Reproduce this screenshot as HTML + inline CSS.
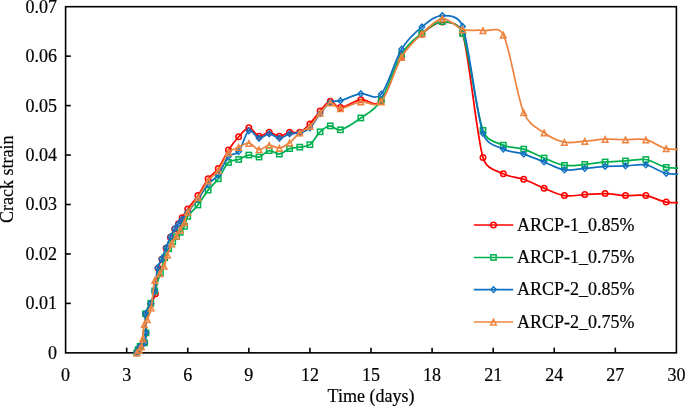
<!DOCTYPE html><html><head><meta charset="utf-8"><style>html,body{margin:0;padding:0;background:#fff;}svg{display:block;will-change:transform}text{font-family:"Liberation Serif",serif;font-size:18px;fill:#000;stroke:#000;stroke-width:0.2px}</style></head><body>
<svg width="685" height="406" viewBox="0 0 685 406">
<g>
<rect x="65.60" y="6.70" width="610.80" height="346.15" fill="none" stroke="#000" stroke-width="1.6"/>
<text x="57" y="358.75" text-anchor="end">0</text>
<line x1="65.60" y1="303.40" x2="70.80" y2="303.40" stroke="#000" stroke-width="1.6"/>
<text x="57" y="309.30" text-anchor="end">0.01</text>
<line x1="65.60" y1="253.95" x2="70.80" y2="253.95" stroke="#000" stroke-width="1.6"/>
<text x="57" y="259.85" text-anchor="end">0.02</text>
<line x1="65.60" y1="204.50" x2="70.80" y2="204.50" stroke="#000" stroke-width="1.6"/>
<text x="57" y="210.40" text-anchor="end">0.03</text>
<line x1="65.60" y1="155.05" x2="70.80" y2="155.05" stroke="#000" stroke-width="1.6"/>
<text x="57" y="160.95" text-anchor="end">0.04</text>
<line x1="65.60" y1="105.60" x2="70.80" y2="105.60" stroke="#000" stroke-width="1.6"/>
<text x="57" y="111.50" text-anchor="end">0.05</text>
<line x1="65.60" y1="56.15" x2="70.80" y2="56.15" stroke="#000" stroke-width="1.6"/>
<text x="57" y="62.05" text-anchor="end">0.06</text>
<text x="57" y="12.60" text-anchor="end">0.07</text>
<text x="65.60" y="380.7" text-anchor="middle">0</text>
<line x1="126.68" y1="352.85" x2="126.68" y2="347.65" stroke="#000" stroke-width="1.6"/>
<text x="126.68" y="380.7" text-anchor="middle">3</text>
<line x1="187.76" y1="352.85" x2="187.76" y2="347.65" stroke="#000" stroke-width="1.6"/>
<text x="187.76" y="380.7" text-anchor="middle">6</text>
<line x1="248.84" y1="352.85" x2="248.84" y2="347.65" stroke="#000" stroke-width="1.6"/>
<text x="248.84" y="380.7" text-anchor="middle">9</text>
<line x1="309.92" y1="352.85" x2="309.92" y2="347.65" stroke="#000" stroke-width="1.6"/>
<text x="309.92" y="380.7" text-anchor="middle">12</text>
<line x1="371.00" y1="352.85" x2="371.00" y2="347.65" stroke="#000" stroke-width="1.6"/>
<text x="371.00" y="380.7" text-anchor="middle">15</text>
<line x1="432.08" y1="352.85" x2="432.08" y2="347.65" stroke="#000" stroke-width="1.6"/>
<text x="432.08" y="380.7" text-anchor="middle">18</text>
<line x1="493.16" y1="352.85" x2="493.16" y2="347.65" stroke="#000" stroke-width="1.6"/>
<text x="493.16" y="380.7" text-anchor="middle">21</text>
<line x1="554.24" y1="352.85" x2="554.24" y2="347.65" stroke="#000" stroke-width="1.6"/>
<text x="554.24" y="380.7" text-anchor="middle">24</text>
<line x1="615.32" y1="352.85" x2="615.32" y2="347.65" stroke="#000" stroke-width="1.6"/>
<text x="615.32" y="380.7" text-anchor="middle">27</text>
<text x="676.40" y="380.7" text-anchor="middle">30</text>
<text x="371.00" y="402.1" text-anchor="middle">Time (days)</text>
<text transform="translate(12.7,179.28) rotate(-90)" text-anchor="middle">Crack strain</text>
<clipPath id="c"><rect x="59.60" y="0" width="618.50" height="358.85"/></clipPath>
<g clip-path="url(#c)">
<path d="M136.81,352.85 C137.08,352.27 137.81,350.46 138.41,349.34 C139.01,348.23 139.39,347.26 140.41,346.14 C141.43,345.02 143.59,344.84 144.51,342.63 C145.43,340.43 145.66,337.64 145.91,332.92 C146.16,328.19 145.20,319.15 146.01,314.29 C146.83,309.43 149.25,307.19 150.81,303.77 C152.38,300.35 154.30,299.15 155.41,293.75 C156.63,287.83 157.03,273.97 158.11,268.21 C159.02,263.41 160.58,262.54 161.91,259.20 C163.25,255.86 164.70,251.85 166.11,248.18 C167.53,244.51 168.98,240.37 170.42,237.16 C171.85,233.96 173.38,231.20 174.72,228.95 C176.05,226.70 177.18,225.53 178.42,223.64 C179.65,221.75 180.56,220.08 182.12,217.63 C183.67,215.18 185.12,212.62 187.76,208.95 C190.40,205.28 194.55,200.63 197.94,195.60 C201.33,190.57 204.73,183.32 208.12,178.79 C211.51,174.25 214.91,173.18 218.30,168.40 C221.69,163.62 225.09,155.38 228.48,150.11 C231.87,144.83 235.27,140.46 238.66,136.75 C242.05,133.04 245.45,127.93 248.84,127.85 C252.23,127.77 255.63,135.52 259.02,136.26 C262.41,137.00 265.81,132.30 269.20,132.30 C272.59,132.30 275.99,136.26 279.38,136.26 C282.77,136.26 286.17,132.96 289.56,132.30 C292.95,131.64 296.35,133.70 299.74,132.30 C303.13,130.90 306.53,127.44 309.92,123.90 C313.31,120.35 316.71,114.83 320.10,111.04 C323.49,107.25 326.89,101.73 330.28,101.15 C333.67,100.57 335.37,107.83 340.46,107.58 C345.55,107.33 354.03,100.74 360.82,99.67 C367.61,98.59 374.39,108.40 381.18,101.15 C387.97,93.90 394.75,67.36 401.54,56.15 C408.33,44.94 415.11,39.58 421.90,33.90 C428.69,28.21 435.47,22.11 442.26,22.03 C449.05,21.95 459.26,22.24 462.62,33.40 C469.41,55.99 476.19,134.12 482.98,157.52 C486.61,170.05 496.55,170.21 503.34,173.84 C510.13,177.47 516.91,176.89 523.70,179.28 C530.49,181.67 537.27,185.46 544.06,188.18 C550.85,190.90 557.63,194.53 564.42,195.60 C571.21,196.67 577.99,194.94 584.78,194.61 C591.57,194.28 598.35,193.46 605.14,193.62 C611.93,193.79 618.71,195.27 625.50,195.60 C632.29,195.93 639.07,194.53 645.86,195.60 C652.65,196.67 659.43,200.87 666.22,202.03 C673.01,203.18 683.19,202.44 686.58,202.52" fill="none" stroke="#FF0000" stroke-width="1.75"/>
<circle cx="136.81" cy="352.85" r="2.75" fill="none" stroke="#FF0000" stroke-width="1.5"/>
<circle cx="138.41" cy="349.34" r="2.75" fill="none" stroke="#FF0000" stroke-width="1.5"/>
<circle cx="140.41" cy="346.14" r="2.75" fill="none" stroke="#FF0000" stroke-width="1.5"/>
<circle cx="144.51" cy="342.63" r="2.75" fill="none" stroke="#FF0000" stroke-width="1.5"/>
<circle cx="145.91" cy="332.92" r="2.75" fill="none" stroke="#FF0000" stroke-width="1.5"/>
<circle cx="146.01" cy="314.29" r="2.75" fill="none" stroke="#FF0000" stroke-width="1.5"/>
<circle cx="150.81" cy="303.77" r="2.75" fill="none" stroke="#FF0000" stroke-width="1.5"/>
<circle cx="155.41" cy="293.75" r="2.75" fill="none" stroke="#FF0000" stroke-width="1.5"/>
<circle cx="158.11" cy="268.21" r="2.75" fill="none" stroke="#FF0000" stroke-width="1.5"/>
<circle cx="161.91" cy="259.20" r="2.75" fill="none" stroke="#FF0000" stroke-width="1.5"/>
<circle cx="166.11" cy="248.18" r="2.75" fill="none" stroke="#FF0000" stroke-width="1.5"/>
<circle cx="170.42" cy="237.16" r="2.75" fill="none" stroke="#FF0000" stroke-width="1.5"/>
<circle cx="174.72" cy="228.95" r="2.75" fill="none" stroke="#FF0000" stroke-width="1.5"/>
<circle cx="178.42" cy="223.64" r="2.75" fill="none" stroke="#FF0000" stroke-width="1.5"/>
<circle cx="182.12" cy="217.63" r="2.75" fill="none" stroke="#FF0000" stroke-width="1.5"/>
<circle cx="187.76" cy="208.95" r="2.75" fill="none" stroke="#FF0000" stroke-width="1.5"/>
<circle cx="197.94" cy="195.60" r="2.75" fill="none" stroke="#FF0000" stroke-width="1.5"/>
<circle cx="208.12" cy="178.79" r="2.75" fill="none" stroke="#FF0000" stroke-width="1.5"/>
<circle cx="218.30" cy="168.40" r="2.75" fill="none" stroke="#FF0000" stroke-width="1.5"/>
<circle cx="228.48" cy="150.11" r="2.75" fill="none" stroke="#FF0000" stroke-width="1.5"/>
<circle cx="238.66" cy="136.75" r="2.75" fill="none" stroke="#FF0000" stroke-width="1.5"/>
<circle cx="248.84" cy="127.85" r="2.75" fill="none" stroke="#FF0000" stroke-width="1.5"/>
<circle cx="259.02" cy="136.26" r="2.75" fill="none" stroke="#FF0000" stroke-width="1.5"/>
<circle cx="269.20" cy="132.30" r="2.75" fill="none" stroke="#FF0000" stroke-width="1.5"/>
<circle cx="279.38" cy="136.26" r="2.75" fill="none" stroke="#FF0000" stroke-width="1.5"/>
<circle cx="289.56" cy="132.30" r="2.75" fill="none" stroke="#FF0000" stroke-width="1.5"/>
<circle cx="299.74" cy="132.30" r="2.75" fill="none" stroke="#FF0000" stroke-width="1.5"/>
<circle cx="309.92" cy="123.90" r="2.75" fill="none" stroke="#FF0000" stroke-width="1.5"/>
<circle cx="320.10" cy="111.04" r="2.75" fill="none" stroke="#FF0000" stroke-width="1.5"/>
<circle cx="330.28" cy="101.15" r="2.75" fill="none" stroke="#FF0000" stroke-width="1.5"/>
<circle cx="340.46" cy="107.58" r="2.75" fill="none" stroke="#FF0000" stroke-width="1.5"/>
<circle cx="360.82" cy="99.67" r="2.75" fill="none" stroke="#FF0000" stroke-width="1.5"/>
<circle cx="381.18" cy="101.15" r="2.75" fill="none" stroke="#FF0000" stroke-width="1.5"/>
<circle cx="401.54" cy="56.15" r="2.75" fill="none" stroke="#FF0000" stroke-width="1.5"/>
<circle cx="421.90" cy="33.90" r="2.75" fill="none" stroke="#FF0000" stroke-width="1.5"/>
<circle cx="442.26" cy="22.03" r="2.75" fill="none" stroke="#FF0000" stroke-width="1.5"/>
<circle cx="462.62" cy="33.40" r="2.75" fill="none" stroke="#FF0000" stroke-width="1.5"/>
<circle cx="482.98" cy="157.52" r="2.75" fill="none" stroke="#FF0000" stroke-width="1.5"/>
<circle cx="503.34" cy="173.84" r="2.75" fill="none" stroke="#FF0000" stroke-width="1.5"/>
<circle cx="523.70" cy="179.28" r="2.75" fill="none" stroke="#FF0000" stroke-width="1.5"/>
<circle cx="544.06" cy="188.18" r="2.75" fill="none" stroke="#FF0000" stroke-width="1.5"/>
<circle cx="564.42" cy="195.60" r="2.75" fill="none" stroke="#FF0000" stroke-width="1.5"/>
<circle cx="584.78" cy="194.61" r="2.75" fill="none" stroke="#FF0000" stroke-width="1.5"/>
<circle cx="605.14" cy="193.62" r="2.75" fill="none" stroke="#FF0000" stroke-width="1.5"/>
<circle cx="625.50" cy="195.60" r="2.75" fill="none" stroke="#FF0000" stroke-width="1.5"/>
<circle cx="645.86" cy="195.60" r="2.75" fill="none" stroke="#FF0000" stroke-width="1.5"/>
<circle cx="666.22" cy="202.03" r="2.75" fill="none" stroke="#FF0000" stroke-width="1.5"/>
<circle cx="686.58" cy="202.52" r="2.75" fill="none" stroke="#FF0000" stroke-width="1.5"/>
<path d="M136.81,352.85 C137.01,352.33 137.48,350.83 138.01,349.74 C138.54,348.66 138.93,347.49 140.01,346.34 C141.09,345.19 143.53,345.09 144.51,342.83 C145.50,340.58 145.75,337.68 145.91,332.82 C146.08,327.96 144.69,318.61 145.51,313.69 C146.33,308.76 149.28,307.06 150.81,303.27 C152.35,299.48 153.11,296.04 154.71,290.95 C156.31,285.86 158.75,278.26 160.41,272.72 C162.08,267.18 163.33,261.70 164.71,257.70 C166.10,253.69 167.38,251.35 168.72,248.68 C170.05,246.01 171.42,243.67 172.72,241.67 C174.02,239.67 175.27,238.21 176.52,236.66 C177.77,235.11 178.88,234.09 180.22,232.36 C181.55,230.62 183.26,228.91 184.52,226.25 C185.77,223.58 185.52,219.91 187.76,216.37 C190.00,212.83 194.55,209.36 197.94,204.99 C201.33,200.63 204.73,194.53 208.12,190.16 C211.51,185.79 214.91,183.40 218.30,178.79 C221.69,174.17 225.09,165.68 228.48,162.47 C231.87,159.25 235.27,160.74 238.66,159.50 C242.05,158.26 245.45,155.46 248.84,155.05 C252.23,154.64 255.63,157.77 259.02,157.03 C262.41,156.29 265.81,151.09 269.20,150.60 C272.59,150.11 275.99,154.39 279.38,154.06 C282.77,153.73 286.17,149.78 289.56,148.62 C292.95,147.47 296.35,147.80 299.74,147.14 C303.13,146.48 306.53,147.22 309.92,144.67 C313.31,142.11 316.71,134.94 320.10,131.81 C323.49,128.68 326.89,126.20 330.28,125.87 C333.67,125.54 335.37,131.15 340.46,129.83 C345.55,128.51 354.03,122.91 360.82,117.96 C367.61,113.02 374.39,110.79 381.18,100.16 C387.97,89.53 394.75,65.30 401.54,54.17 C408.33,43.05 415.11,38.84 421.90,33.40 C428.69,27.96 435.47,21.53 442.26,21.53 C449.05,21.53 458.49,22.37 462.62,33.40 C469.41,51.53 476.19,111.70 482.98,130.33 C487.29,142.16 496.55,142.03 503.34,145.16 C510.13,148.29 516.91,146.97 523.70,149.12 C530.49,151.26 537.27,155.30 544.06,158.02 C550.85,160.74 557.63,164.36 564.42,165.43 C571.21,166.51 577.99,165.02 584.78,164.45 C591.57,163.87 598.35,162.55 605.14,161.97 C611.93,161.40 618.71,161.40 625.50,160.98 C632.29,160.57 639.07,158.43 645.86,159.50 C652.65,160.57 659.43,166.01 666.22,167.41 C673.01,168.81 683.19,167.82 686.58,167.91" fill="none" stroke="#00B050" stroke-width="1.75"/>
<rect x="134.16" y="350.20" width="5.30" height="5.30" fill="none" stroke="#00B050" stroke-width="1.5"/>
<rect x="135.36" y="347.09" width="5.30" height="5.30" fill="none" stroke="#00B050" stroke-width="1.5"/>
<rect x="137.36" y="343.69" width="5.30" height="5.30" fill="none" stroke="#00B050" stroke-width="1.5"/>
<rect x="141.86" y="340.18" width="5.30" height="5.30" fill="none" stroke="#00B050" stroke-width="1.5"/>
<rect x="143.26" y="330.17" width="5.30" height="5.30" fill="none" stroke="#00B050" stroke-width="1.5"/>
<rect x="142.86" y="311.04" width="5.30" height="5.30" fill="none" stroke="#00B050" stroke-width="1.5"/>
<rect x="148.16" y="300.62" width="5.30" height="5.30" fill="none" stroke="#00B050" stroke-width="1.5"/>
<rect x="152.06" y="288.30" width="5.30" height="5.30" fill="none" stroke="#00B050" stroke-width="1.5"/>
<rect x="157.76" y="270.07" width="5.30" height="5.30" fill="none" stroke="#00B050" stroke-width="1.5"/>
<rect x="162.06" y="255.05" width="5.30" height="5.30" fill="none" stroke="#00B050" stroke-width="1.5"/>
<rect x="166.07" y="246.03" width="5.30" height="5.30" fill="none" stroke="#00B050" stroke-width="1.5"/>
<rect x="170.07" y="239.02" width="5.30" height="5.30" fill="none" stroke="#00B050" stroke-width="1.5"/>
<rect x="173.87" y="234.01" width="5.30" height="5.30" fill="none" stroke="#00B050" stroke-width="1.5"/>
<rect x="177.57" y="229.71" width="5.30" height="5.30" fill="none" stroke="#00B050" stroke-width="1.5"/>
<rect x="181.87" y="223.60" width="5.30" height="5.30" fill="none" stroke="#00B050" stroke-width="1.5"/>
<rect x="185.11" y="213.72" width="5.30" height="5.30" fill="none" stroke="#00B050" stroke-width="1.5"/>
<rect x="195.29" y="202.34" width="5.30" height="5.30" fill="none" stroke="#00B050" stroke-width="1.5"/>
<rect x="205.47" y="187.51" width="5.30" height="5.30" fill="none" stroke="#00B050" stroke-width="1.5"/>
<rect x="215.65" y="176.14" width="5.30" height="5.30" fill="none" stroke="#00B050" stroke-width="1.5"/>
<rect x="225.83" y="159.82" width="5.30" height="5.30" fill="none" stroke="#00B050" stroke-width="1.5"/>
<rect x="236.01" y="156.85" width="5.30" height="5.30" fill="none" stroke="#00B050" stroke-width="1.5"/>
<rect x="246.19" y="152.40" width="5.30" height="5.30" fill="none" stroke="#00B050" stroke-width="1.5"/>
<rect x="256.37" y="154.38" width="5.30" height="5.30" fill="none" stroke="#00B050" stroke-width="1.5"/>
<rect x="266.55" y="147.95" width="5.30" height="5.30" fill="none" stroke="#00B050" stroke-width="1.5"/>
<rect x="276.73" y="151.41" width="5.30" height="5.30" fill="none" stroke="#00B050" stroke-width="1.5"/>
<rect x="286.91" y="145.97" width="5.30" height="5.30" fill="none" stroke="#00B050" stroke-width="1.5"/>
<rect x="297.09" y="144.49" width="5.30" height="5.30" fill="none" stroke="#00B050" stroke-width="1.5"/>
<rect x="307.27" y="142.02" width="5.30" height="5.30" fill="none" stroke="#00B050" stroke-width="1.5"/>
<rect x="317.45" y="129.16" width="5.30" height="5.30" fill="none" stroke="#00B050" stroke-width="1.5"/>
<rect x="327.63" y="123.22" width="5.30" height="5.30" fill="none" stroke="#00B050" stroke-width="1.5"/>
<rect x="337.81" y="127.18" width="5.30" height="5.30" fill="none" stroke="#00B050" stroke-width="1.5"/>
<rect x="358.17" y="115.31" width="5.30" height="5.30" fill="none" stroke="#00B050" stroke-width="1.5"/>
<rect x="378.53" y="97.51" width="5.30" height="5.30" fill="none" stroke="#00B050" stroke-width="1.5"/>
<rect x="398.89" y="51.52" width="5.30" height="5.30" fill="none" stroke="#00B050" stroke-width="1.5"/>
<rect x="419.25" y="30.75" width="5.30" height="5.30" fill="none" stroke="#00B050" stroke-width="1.5"/>
<rect x="439.61" y="18.88" width="5.30" height="5.30" fill="none" stroke="#00B050" stroke-width="1.5"/>
<rect x="459.97" y="30.75" width="5.30" height="5.30" fill="none" stroke="#00B050" stroke-width="1.5"/>
<rect x="480.33" y="127.68" width="5.30" height="5.30" fill="none" stroke="#00B050" stroke-width="1.5"/>
<rect x="500.69" y="142.51" width="5.30" height="5.30" fill="none" stroke="#00B050" stroke-width="1.5"/>
<rect x="521.05" y="146.47" width="5.30" height="5.30" fill="none" stroke="#00B050" stroke-width="1.5"/>
<rect x="541.41" y="155.37" width="5.30" height="5.30" fill="none" stroke="#00B050" stroke-width="1.5"/>
<rect x="561.77" y="162.78" width="5.30" height="5.30" fill="none" stroke="#00B050" stroke-width="1.5"/>
<rect x="582.13" y="161.80" width="5.30" height="5.30" fill="none" stroke="#00B050" stroke-width="1.5"/>
<rect x="602.49" y="159.32" width="5.30" height="5.30" fill="none" stroke="#00B050" stroke-width="1.5"/>
<rect x="622.85" y="158.33" width="5.30" height="5.30" fill="none" stroke="#00B050" stroke-width="1.5"/>
<rect x="643.21" y="156.85" width="5.30" height="5.30" fill="none" stroke="#00B050" stroke-width="1.5"/>
<rect x="663.57" y="164.76" width="5.30" height="5.30" fill="none" stroke="#00B050" stroke-width="1.5"/>
<rect x="683.93" y="165.26" width="5.30" height="5.30" fill="none" stroke="#00B050" stroke-width="1.5"/>
<path d="M136.81,352.85 C137.04,352.30 137.64,350.66 138.21,349.54 C138.78,348.43 139.16,347.26 140.21,346.14 C141.26,345.02 143.56,345.05 144.51,342.83 C145.46,340.61 145.75,337.68 145.91,332.82 C146.08,327.96 144.69,318.61 145.51,313.69 C146.33,308.76 149.28,307.06 150.81,303.27 C152.35,299.48 153.60,296.84 154.71,290.95 C155.83,285.06 156.35,273.25 157.51,267.91 C158.57,263.05 160.28,262.25 161.71,258.90 C163.15,255.54 164.66,251.47 166.11,247.78 C167.57,244.09 168.98,239.95 170.42,236.76 C171.85,233.57 173.42,230.75 174.72,228.65 C176.02,226.55 177.05,225.64 178.22,224.14 C179.38,222.64 180.13,221.67 181.72,219.63 C183.31,217.60 185.06,215.35 187.76,211.92 C190.46,208.49 194.55,203.68 197.94,199.06 C201.33,194.45 204.73,188.26 208.12,184.23 C211.51,180.19 214.91,179.45 218.30,174.83 C221.69,170.21 225.09,160.41 228.48,156.53 C231.87,152.66 235.27,155.87 238.66,151.59 C242.05,147.30 245.45,133.04 248.84,130.82 C252.23,128.59 255.63,137.74 259.02,138.24 C262.41,138.73 265.81,133.79 269.20,133.79 C272.59,133.79 275.99,138.24 279.38,138.24 C282.77,138.24 286.17,134.69 289.56,133.79 C292.95,132.88 296.35,133.79 299.74,132.80 C303.13,131.81 306.53,131.07 309.92,127.85 C313.31,124.64 316.71,117.80 320.10,113.51 C323.49,109.23 326.89,104.28 330.28,102.14 C333.67,100.00 335.50,102.02 340.46,100.66 C345.55,99.25 354.03,94.80 360.82,93.73 C367.61,92.66 374.39,101.64 381.18,94.23 C387.97,86.81 394.75,60.44 401.54,49.23 C408.33,38.02 415.11,32.58 421.90,26.97 C428.69,21.37 435.47,15.68 442.26,15.60 C449.05,15.52 458.85,15.57 462.62,26.48 C469.41,46.10 476.19,112.85 482.98,133.29 C487.04,145.53 496.55,145.65 503.34,149.12 C510.13,152.58 516.91,151.92 523.70,154.06 C530.49,156.20 537.27,159.34 544.06,161.97 C550.85,164.61 557.63,168.81 564.42,169.89 C571.21,170.96 577.99,168.98 584.78,168.40 C591.57,167.82 598.35,166.84 605.14,166.42 C611.93,166.01 618.71,166.18 625.50,165.93 C632.29,165.68 639.07,163.70 645.86,164.94 C652.65,166.18 659.43,171.86 666.22,173.35 C673.01,174.83 683.19,173.76 686.58,173.84" fill="none" stroke="#0F70C0" stroke-width="1.75"/>
<path d="M136.81,349.95L139.51,352.85L136.81,355.75L134.11,352.85Z" fill="none" stroke="#0F70C0" stroke-width="1.35"/>
<path d="M138.21,346.64L140.91,349.54L138.21,352.44L135.51,349.54Z" fill="none" stroke="#0F70C0" stroke-width="1.35"/>
<path d="M140.21,343.24L142.91,346.14L140.21,349.04L137.51,346.14Z" fill="none" stroke="#0F70C0" stroke-width="1.35"/>
<path d="M144.51,339.93L147.21,342.83L144.51,345.73L141.81,342.83Z" fill="none" stroke="#0F70C0" stroke-width="1.35"/>
<path d="M145.91,329.92L148.61,332.82L145.91,335.72L143.21,332.82Z" fill="none" stroke="#0F70C0" stroke-width="1.35"/>
<path d="M145.51,310.79L148.21,313.69L145.51,316.59L142.81,313.69Z" fill="none" stroke="#0F70C0" stroke-width="1.35"/>
<path d="M150.81,300.37L153.51,303.27L150.81,306.17L148.11,303.27Z" fill="none" stroke="#0F70C0" stroke-width="1.35"/>
<path d="M154.71,288.05L157.41,290.95L154.71,293.85L152.01,290.95Z" fill="none" stroke="#0F70C0" stroke-width="1.35"/>
<path d="M157.51,265.01L160.21,267.91L157.51,270.81L154.81,267.91Z" fill="none" stroke="#0F70C0" stroke-width="1.35"/>
<path d="M161.71,256.00L164.41,258.90L161.71,261.80L159.01,258.90Z" fill="none" stroke="#0F70C0" stroke-width="1.35"/>
<path d="M166.11,244.88L168.81,247.78L166.11,250.68L163.41,247.78Z" fill="none" stroke="#0F70C0" stroke-width="1.35"/>
<path d="M170.42,233.86L173.12,236.76L170.42,239.66L167.72,236.76Z" fill="none" stroke="#0F70C0" stroke-width="1.35"/>
<path d="M174.72,225.75L177.42,228.65L174.72,231.55L172.02,228.65Z" fill="none" stroke="#0F70C0" stroke-width="1.35"/>
<path d="M178.22,221.24L180.92,224.14L178.22,227.04L175.52,224.14Z" fill="none" stroke="#0F70C0" stroke-width="1.35"/>
<path d="M181.72,216.73L184.42,219.63L181.72,222.53L179.02,219.63Z" fill="none" stroke="#0F70C0" stroke-width="1.35"/>
<path d="M187.76,209.02L190.46,211.92L187.76,214.82L185.06,211.92Z" fill="none" stroke="#0F70C0" stroke-width="1.35"/>
<path d="M197.94,196.16L200.64,199.06L197.94,201.96L195.24,199.06Z" fill="none" stroke="#0F70C0" stroke-width="1.35"/>
<path d="M208.12,181.33L210.82,184.23L208.12,187.13L205.42,184.23Z" fill="none" stroke="#0F70C0" stroke-width="1.35"/>
<path d="M218.30,171.93L221.00,174.83L218.30,177.73L215.60,174.83Z" fill="none" stroke="#0F70C0" stroke-width="1.35"/>
<path d="M228.48,153.63L231.18,156.53L228.48,159.43L225.78,156.53Z" fill="none" stroke="#0F70C0" stroke-width="1.35"/>
<path d="M238.66,148.69L241.36,151.59L238.66,154.49L235.96,151.59Z" fill="none" stroke="#0F70C0" stroke-width="1.35"/>
<path d="M248.84,127.92L251.54,130.82L248.84,133.72L246.14,130.82Z" fill="none" stroke="#0F70C0" stroke-width="1.35"/>
<path d="M259.02,135.34L261.72,138.24L259.02,141.14L256.32,138.24Z" fill="none" stroke="#0F70C0" stroke-width="1.35"/>
<path d="M269.20,130.89L271.90,133.79L269.20,136.69L266.50,133.79Z" fill="none" stroke="#0F70C0" stroke-width="1.35"/>
<path d="M279.38,135.34L282.08,138.24L279.38,141.14L276.68,138.24Z" fill="none" stroke="#0F70C0" stroke-width="1.35"/>
<path d="M289.56,130.89L292.26,133.79L289.56,136.69L286.86,133.79Z" fill="none" stroke="#0F70C0" stroke-width="1.35"/>
<path d="M299.74,129.90L302.44,132.80L299.74,135.70L297.04,132.80Z" fill="none" stroke="#0F70C0" stroke-width="1.35"/>
<path d="M309.92,124.95L312.62,127.85L309.92,130.75L307.22,127.85Z" fill="none" stroke="#0F70C0" stroke-width="1.35"/>
<path d="M320.10,110.61L322.80,113.51L320.10,116.41L317.40,113.51Z" fill="none" stroke="#0F70C0" stroke-width="1.35"/>
<path d="M330.28,99.24L332.98,102.14L330.28,105.04L327.58,102.14Z" fill="none" stroke="#0F70C0" stroke-width="1.35"/>
<path d="M340.46,97.76L343.16,100.66L340.46,103.56L337.76,100.66Z" fill="none" stroke="#0F70C0" stroke-width="1.35"/>
<path d="M360.82,90.83L363.52,93.73L360.82,96.63L358.12,93.73Z" fill="none" stroke="#0F70C0" stroke-width="1.35"/>
<path d="M381.18,91.33L383.88,94.23L381.18,97.13L378.48,94.23Z" fill="none" stroke="#0F70C0" stroke-width="1.35"/>
<path d="M401.54,46.33L404.24,49.23L401.54,52.13L398.84,49.23Z" fill="none" stroke="#0F70C0" stroke-width="1.35"/>
<path d="M421.90,24.07L424.60,26.97L421.90,29.87L419.20,26.97Z" fill="none" stroke="#0F70C0" stroke-width="1.35"/>
<path d="M442.26,12.70L444.96,15.60L442.26,18.50L439.56,15.60Z" fill="none" stroke="#0F70C0" stroke-width="1.35"/>
<path d="M462.62,23.58L465.32,26.48L462.62,29.38L459.92,26.48Z" fill="none" stroke="#0F70C0" stroke-width="1.35"/>
<path d="M482.98,130.39L485.68,133.29L482.98,136.19L480.28,133.29Z" fill="none" stroke="#0F70C0" stroke-width="1.35"/>
<path d="M503.34,146.22L506.04,149.12L503.34,152.02L500.64,149.12Z" fill="none" stroke="#0F70C0" stroke-width="1.35"/>
<path d="M523.70,151.16L526.40,154.06L523.70,156.96L521.00,154.06Z" fill="none" stroke="#0F70C0" stroke-width="1.35"/>
<path d="M544.06,159.07L546.76,161.97L544.06,164.87L541.36,161.97Z" fill="none" stroke="#0F70C0" stroke-width="1.35"/>
<path d="M564.42,166.99L567.12,169.89L564.42,172.79L561.72,169.89Z" fill="none" stroke="#0F70C0" stroke-width="1.35"/>
<path d="M584.78,165.50L587.48,168.40L584.78,171.30L582.08,168.40Z" fill="none" stroke="#0F70C0" stroke-width="1.35"/>
<path d="M605.14,163.52L607.84,166.42L605.14,169.32L602.44,166.42Z" fill="none" stroke="#0F70C0" stroke-width="1.35"/>
<path d="M625.50,163.03L628.20,165.93L625.50,168.83L622.80,165.93Z" fill="none" stroke="#0F70C0" stroke-width="1.35"/>
<path d="M645.86,162.04L648.56,164.94L645.86,167.84L643.16,164.94Z" fill="none" stroke="#0F70C0" stroke-width="1.35"/>
<path d="M666.22,170.45L668.92,173.35L666.22,176.25L663.52,173.35Z" fill="none" stroke="#0F70C0" stroke-width="1.35"/>
<path d="M686.58,170.94L689.28,173.84L686.58,176.74L683.88,173.84Z" fill="none" stroke="#0F70C0" stroke-width="1.35"/>
<path d="M136.81,352.85 C137.21,352.37 138.44,350.96 139.21,349.95 C139.98,348.93 140.84,348.60 141.41,346.74 C141.99,344.85 142.23,342.35 142.71,338.63 C143.19,334.90 143.54,327.58 144.31,324.40 C144.98,321.65 146.23,322.21 147.31,319.60 C148.46,316.83 150.05,313.89 151.21,307.78 C152.46,301.22 153.38,285.94 154.81,280.23 C155.83,276.17 158.26,275.88 159.81,273.52 C161.36,271.17 162.83,269.20 164.11,266.11 C165.40,263.02 166.23,258.73 167.52,254.99 C168.80,251.25 170.32,246.83 171.82,243.67 C173.32,240.52 175.12,238.35 176.52,236.06 C177.92,233.77 178.88,232.20 180.22,229.95 C181.55,227.70 183.26,225.54 184.52,222.54 C185.77,219.53 185.52,216.08 187.76,211.92 C190.00,207.76 194.55,202.77 197.94,197.58 C201.33,192.38 204.73,185.30 208.12,180.76 C211.51,176.23 214.91,175.08 218.30,170.38 C221.69,165.68 225.09,156.45 228.48,152.58 C231.87,148.70 235.27,148.70 238.66,147.14 C242.05,145.57 245.45,142.77 248.84,143.18 C252.23,143.59 255.63,149.28 259.02,149.61 C262.41,149.94 265.81,145.41 269.20,145.16 C272.59,144.91 275.99,148.54 279.38,148.13 C282.77,147.71 286.17,145.24 289.56,142.69 C292.95,140.13 296.35,135.52 299.74,132.80 C303.13,130.08 306.53,129.67 309.92,126.37 C313.31,123.07 316.71,116.97 320.10,113.02 C323.49,109.06 326.89,103.37 330.28,102.63 C333.67,101.89 335.37,108.73 340.46,108.57 C345.55,108.40 354.03,102.80 360.82,101.64 C367.61,100.49 374.39,109.06 381.18,101.64 C387.97,94.23 394.75,68.43 401.54,57.14 C408.33,45.85 415.11,40.33 421.90,33.90 C428.69,27.47 435.47,19.31 442.26,18.57 C449.05,17.83 455.83,27.47 462.62,29.45 C469.41,31.43 476.19,29.53 482.98,30.44 C489.77,31.34 498.71,25.55 503.34,34.89 C510.13,48.57 516.91,96.20 523.70,112.52 C529.22,125.79 537.27,127.85 544.06,132.80 C550.85,137.74 557.63,140.79 564.42,142.19 C571.21,143.59 577.99,141.70 584.78,141.20 C591.57,140.71 598.35,139.47 605.14,139.23 C611.93,138.98 618.71,139.64 625.50,139.72 C632.29,139.80 639.07,138.24 645.86,139.72 C652.65,141.20 659.43,147.06 666.22,148.62 C673.01,150.19 683.19,149.03 686.58,149.12" fill="none" stroke="#ED8440" stroke-width="1.75"/>
<path d="M136.81,350.25L139.61,355.85L134.01,355.85Z" fill="none" stroke="#ED8440" stroke-width="1.5" stroke-linejoin="miter"/>
<path d="M139.21,347.35L142.01,352.95L136.41,352.95Z" fill="none" stroke="#ED8440" stroke-width="1.5" stroke-linejoin="miter"/>
<path d="M141.41,344.14L144.21,349.74L138.61,349.74Z" fill="none" stroke="#ED8440" stroke-width="1.5" stroke-linejoin="miter"/>
<path d="M142.71,336.03L145.51,341.63L139.91,341.63Z" fill="none" stroke="#ED8440" stroke-width="1.5" stroke-linejoin="miter"/>
<path d="M144.31,321.80L147.11,327.40L141.51,327.40Z" fill="none" stroke="#ED8440" stroke-width="1.5" stroke-linejoin="miter"/>
<path d="M147.31,317.00L150.11,322.60L144.51,322.60Z" fill="none" stroke="#ED8440" stroke-width="1.5" stroke-linejoin="miter"/>
<path d="M151.21,305.18L154.01,310.78L148.41,310.78Z" fill="none" stroke="#ED8440" stroke-width="1.5" stroke-linejoin="miter"/>
<path d="M154.81,277.63L157.61,283.23L152.01,283.23Z" fill="none" stroke="#ED8440" stroke-width="1.5" stroke-linejoin="miter"/>
<path d="M159.81,270.92L162.61,276.52L157.01,276.52Z" fill="none" stroke="#ED8440" stroke-width="1.5" stroke-linejoin="miter"/>
<path d="M164.11,263.51L166.91,269.11L161.31,269.11Z" fill="none" stroke="#ED8440" stroke-width="1.5" stroke-linejoin="miter"/>
<path d="M167.52,252.39L170.32,257.99L164.72,257.99Z" fill="none" stroke="#ED8440" stroke-width="1.5" stroke-linejoin="miter"/>
<path d="M171.82,241.07L174.62,246.67L169.02,246.67Z" fill="none" stroke="#ED8440" stroke-width="1.5" stroke-linejoin="miter"/>
<path d="M176.52,233.46L179.32,239.06L173.72,239.06Z" fill="none" stroke="#ED8440" stroke-width="1.5" stroke-linejoin="miter"/>
<path d="M180.22,227.35L183.02,232.95L177.42,232.95Z" fill="none" stroke="#ED8440" stroke-width="1.5" stroke-linejoin="miter"/>
<path d="M184.52,219.94L187.32,225.54L181.72,225.54Z" fill="none" stroke="#ED8440" stroke-width="1.5" stroke-linejoin="miter"/>
<path d="M187.76,209.32L190.56,214.92L184.96,214.92Z" fill="none" stroke="#ED8440" stroke-width="1.5" stroke-linejoin="miter"/>
<path d="M197.94,194.98L200.74,200.58L195.14,200.58Z" fill="none" stroke="#ED8440" stroke-width="1.5" stroke-linejoin="miter"/>
<path d="M208.12,178.16L210.92,183.76L205.32,183.76Z" fill="none" stroke="#ED8440" stroke-width="1.5" stroke-linejoin="miter"/>
<path d="M218.30,167.78L221.10,173.38L215.50,173.38Z" fill="none" stroke="#ED8440" stroke-width="1.5" stroke-linejoin="miter"/>
<path d="M228.48,149.98L231.28,155.58L225.68,155.58Z" fill="none" stroke="#ED8440" stroke-width="1.5" stroke-linejoin="miter"/>
<path d="M238.66,144.54L241.46,150.14L235.86,150.14Z" fill="none" stroke="#ED8440" stroke-width="1.5" stroke-linejoin="miter"/>
<path d="M248.84,140.58L251.64,146.18L246.04,146.18Z" fill="none" stroke="#ED8440" stroke-width="1.5" stroke-linejoin="miter"/>
<path d="M259.02,147.01L261.82,152.61L256.22,152.61Z" fill="none" stroke="#ED8440" stroke-width="1.5" stroke-linejoin="miter"/>
<path d="M269.20,142.56L272.00,148.16L266.40,148.16Z" fill="none" stroke="#ED8440" stroke-width="1.5" stroke-linejoin="miter"/>
<path d="M279.38,145.53L282.18,151.13L276.58,151.13Z" fill="none" stroke="#ED8440" stroke-width="1.5" stroke-linejoin="miter"/>
<path d="M289.56,140.09L292.36,145.69L286.76,145.69Z" fill="none" stroke="#ED8440" stroke-width="1.5" stroke-linejoin="miter"/>
<path d="M299.74,130.20L302.54,135.80L296.94,135.80Z" fill="none" stroke="#ED8440" stroke-width="1.5" stroke-linejoin="miter"/>
<path d="M309.92,123.77L312.72,129.37L307.12,129.37Z" fill="none" stroke="#ED8440" stroke-width="1.5" stroke-linejoin="miter"/>
<path d="M320.10,110.42L322.90,116.02L317.30,116.02Z" fill="none" stroke="#ED8440" stroke-width="1.5" stroke-linejoin="miter"/>
<path d="M330.28,100.03L333.08,105.63L327.48,105.63Z" fill="none" stroke="#ED8440" stroke-width="1.5" stroke-linejoin="miter"/>
<path d="M340.46,105.97L343.26,111.57L337.66,111.57Z" fill="none" stroke="#ED8440" stroke-width="1.5" stroke-linejoin="miter"/>
<path d="M360.82,99.04L363.62,104.64L358.02,104.64Z" fill="none" stroke="#ED8440" stroke-width="1.5" stroke-linejoin="miter"/>
<path d="M381.18,99.04L383.98,104.64L378.38,104.64Z" fill="none" stroke="#ED8440" stroke-width="1.5" stroke-linejoin="miter"/>
<path d="M401.54,54.54L404.34,60.14L398.74,60.14Z" fill="none" stroke="#ED8440" stroke-width="1.5" stroke-linejoin="miter"/>
<path d="M421.90,31.30L424.70,36.90L419.10,36.90Z" fill="none" stroke="#ED8440" stroke-width="1.5" stroke-linejoin="miter"/>
<path d="M442.26,15.97L445.06,21.57L439.46,21.57Z" fill="none" stroke="#ED8440" stroke-width="1.5" stroke-linejoin="miter"/>
<path d="M462.62,26.85L465.42,32.45L459.82,32.45Z" fill="none" stroke="#ED8440" stroke-width="1.5" stroke-linejoin="miter"/>
<path d="M482.98,27.84L485.78,33.44L480.18,33.44Z" fill="none" stroke="#ED8440" stroke-width="1.5" stroke-linejoin="miter"/>
<path d="M503.34,32.29L506.14,37.89L500.54,37.89Z" fill="none" stroke="#ED8440" stroke-width="1.5" stroke-linejoin="miter"/>
<path d="M523.70,109.92L526.50,115.52L520.90,115.52Z" fill="none" stroke="#ED8440" stroke-width="1.5" stroke-linejoin="miter"/>
<path d="M544.06,130.20L546.86,135.80L541.26,135.80Z" fill="none" stroke="#ED8440" stroke-width="1.5" stroke-linejoin="miter"/>
<path d="M564.42,139.59L567.22,145.19L561.62,145.19Z" fill="none" stroke="#ED8440" stroke-width="1.5" stroke-linejoin="miter"/>
<path d="M584.78,138.60L587.58,144.20L581.98,144.20Z" fill="none" stroke="#ED8440" stroke-width="1.5" stroke-linejoin="miter"/>
<path d="M605.14,136.63L607.94,142.23L602.34,142.23Z" fill="none" stroke="#ED8440" stroke-width="1.5" stroke-linejoin="miter"/>
<path d="M625.50,137.12L628.30,142.72L622.70,142.72Z" fill="none" stroke="#ED8440" stroke-width="1.5" stroke-linejoin="miter"/>
<path d="M645.86,137.12L648.66,142.72L643.06,142.72Z" fill="none" stroke="#ED8440" stroke-width="1.5" stroke-linejoin="miter"/>
<path d="M666.22,146.02L669.02,151.62L663.42,151.62Z" fill="none" stroke="#ED8440" stroke-width="1.5" stroke-linejoin="miter"/>
<path d="M686.58,146.52L689.38,152.12L683.78,152.12Z" fill="none" stroke="#ED8440" stroke-width="1.5" stroke-linejoin="miter"/>
</g>
<line x1="473.8" y1="225.0" x2="513.2" y2="225.0" stroke="#FF0000" stroke-width="1.55"/>
<circle cx="493.50" cy="225.00" r="2.75" fill="none" stroke="#FF0000" stroke-width="1.5"/>
<text x="517.0" y="230.60">ARCP-1_0.85%</text>
<line x1="473.8" y1="257.4" x2="513.2" y2="257.4" stroke="#00B050" stroke-width="1.55"/>
<rect x="490.85" y="254.75" width="5.30" height="5.30" fill="none" stroke="#00B050" stroke-width="1.5"/>
<text x="517.0" y="263.00">ARCP-1_0.75%</text>
<line x1="473.8" y1="289.6" x2="513.2" y2="289.6" stroke="#0F70C0" stroke-width="1.55"/>
<path d="M493.50,286.70L496.20,289.60L493.50,292.50L490.80,289.60Z" fill="none" stroke="#0F70C0" stroke-width="1.35"/>
<text x="517.0" y="295.20">ARCP-2_0.85%</text>
<line x1="473.8" y1="321.9" x2="513.2" y2="321.9" stroke="#ED8440" stroke-width="1.55"/>
<path d="M493.50,319.30L496.30,324.90L490.70,324.90Z" fill="none" stroke="#ED8440" stroke-width="1.5" stroke-linejoin="miter"/>
<text x="517.0" y="327.50">ARCP-2_0.75%</text>
</g></svg></body></html>
